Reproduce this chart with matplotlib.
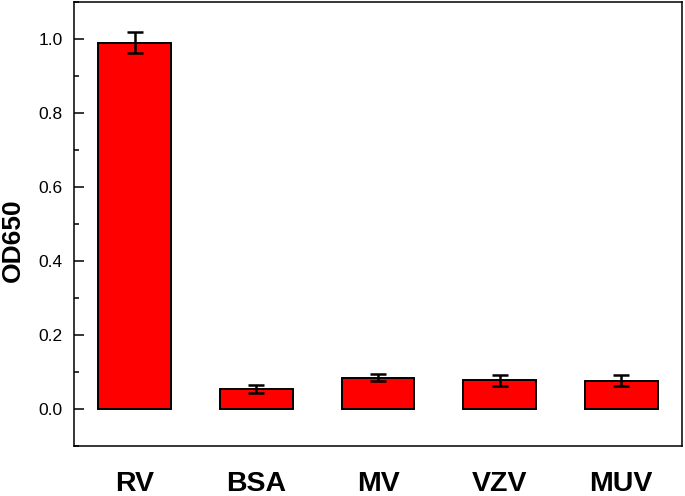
import matplotlib
matplotlib.use("Agg")
import matplotlib.pyplot as plt
from matplotlib.ticker import MultipleLocator

categories = ["RV", "BSA", "MV", "VZV", "MUV"]
values = [0.99, 0.054, 0.085, 0.078, 0.077]
errors = [0.028, 0.010, 0.009, 0.015, 0.016]

plt.rcParams['font.family'] = ['Liberation Sans', 'DejaVu Sans']

fig = plt.figure(figsize=(6.85, 4.96), dpi=100)
ax = fig.add_axes([74/685, 1 - 446/496, 608/685, 444/496])

x = list(range(len(categories)))
ax.bar(x, values, width=0.6, color='#ff0000', edgecolor='black', linewidth=1.4,
       yerr=errors, capsize=5.5, error_kw=dict(elinewidth=1.8, capthick=1.8, ecolor='black'))

ax.set_xlim(-0.5, 4.5)
ax.set_ylim(-0.1, 1.1)
ax.set_xticks(x)
ax.set_xticklabels(categories, fontsize=20.5, fontweight='bold')
ax.tick_params(axis='x', length=0, pad=18)
ax.yaxis.set_major_locator(MultipleLocator(0.2))
ax.yaxis.set_minor_locator(MultipleLocator(0.1))
ax.set_yticks([0.0, 0.2, 0.4, 0.6, 0.8, 1.0])
ax.set_yticklabels(["0.0", "0.2", "0.4", "0.6", "0.8", "1.0"])
ax.tick_params(axis='y', which='major', direction='in', length=7, width=1.1, labelsize=12.5, pad=8)
ax.tick_params(axis='y', which='minor', direction='in', length=3.5, width=1.1)
for s in ax.spines.values():
    s.set_linewidth(1.1)
ax.set_ylabel("OD650", fontsize=19, fontweight='bold')
ax.yaxis.set_label_coords(-0.08, 0.464)

fig.savefig("out.png", dpi=100)
